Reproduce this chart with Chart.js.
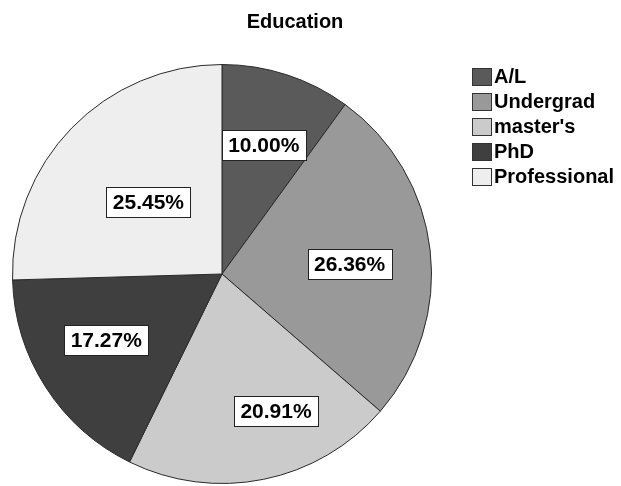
<!DOCTYPE html>
<html>
<head>
<meta charset="utf-8">
<script src="https://cdn.jsdelivr.net/npm/chart.js@4/dist/chart.umd.min.js"></script>
<style>
  html, body { margin: 0; padding: 0; background: #ffffff; }
  #wrap { width: 621px; height: 486px; position: relative; }
</style>
</head>
<body>
<div id="wrap"><canvas id="pie" width="621" height="486"></canvas></div>
<script>
// Education breakdown (percent of respondents)
const categories = ["A/L", "Undergrad", "master's", "PhD", "Professional"];
const percentages = [10.00, 26.36, 20.91, 17.27, 25.45];
const chartTitle = "Education";

const sliceColors = ["#5a5a5a", "#999999", "#cbcbcb", "#3f3f3f", "#eeeeee"];
const FONT = "'Liberation Sans', Arial, sans-serif";

// Where each value box sits: fraction of the radius and angle nudge (degrees)
const labelPlacement = [
  { r: 0.645, nudge: 0 },
  { r: 0.611, nudge: 2 },
  { r: 0.705, nudge: -10 },
  { r: 0.636, nudge: 3 },
  { r: 0.49,  nudge: 0 }
];

const valueBoxes = {
  id: 'valueBoxes',
  afterDatasetsDraw(chart) {
    const ctx = chart.ctx;
    const meta = chart.getDatasetMeta(0);
    const values = chart.data.datasets[0].data;
    ctx.save();
    ctx.font = "bold 21px " + FONT;
    ctx.textAlign = 'center';
    ctx.textBaseline = 'middle';
    meta.data.forEach((arc, i) => {
      const p = arc.getProps(['x', 'y', 'startAngle', 'endAngle', 'outerRadius'], true);
      const place = labelPlacement[i];
      const mid = (p.startAngle + p.endAngle) / 2 + place.nudge * Math.PI / 180;
      const rr = p.outerRadius * place.r;
      const cx = p.x + Math.cos(mid) * rr;
      const cy = p.y + Math.sin(mid) * rr;
      const text = values[i].toFixed(2) + '%';
      const w = Math.round(ctx.measureText(text).width + 13);
      const h = 30;
      const bx = Math.round(cx - w / 2) + 0.5;
      const by = Math.round(cy - h / 2) + 0.5;
      ctx.fillStyle = '#ffffff';
      ctx.fillRect(bx, by, w, h);
      ctx.strokeStyle = '#222222';
      ctx.lineWidth = 1;
      ctx.strokeRect(bx, by, w, h);
      ctx.fillStyle = '#000000';
      ctx.fillText(text, cx, cy + 1);
    });
    ctx.restore();
  }
};

const sideLegend = {
  id: 'sideLegend',
  afterDraw(chart) {
    const ctx = chart.ctx;
    const ds = chart.data.datasets[0];
    ctx.save();
    // title
    ctx.font = "bold 20px " + FONT;
    ctx.fillStyle = '#000000';
    ctx.textAlign = 'center';
    ctx.textBaseline = 'middle';
    ctx.fillText(chartTitle, 295, 22);
    // legend entries
    ctx.font = "bold 20px " + FONT;
    ctx.textAlign = 'left';
    chart.data.labels.forEach((lab, i) => {
      const top = 68 + i * 25;
      ctx.fillStyle = ds.backgroundColor[i];
      ctx.fillRect(472.5, top + 0.5, 19, 17);
      ctx.strokeStyle = '#333333';
      ctx.lineWidth = 1;
      ctx.strokeRect(472.5, top + 0.5, 19, 17);
      ctx.fillStyle = '#000000';
      ctx.fillText(lab, 494, top + 9.5);
    });
    ctx.restore();
  }
};

new Chart(document.getElementById('pie'), {
  type: 'pie',
  data: {
    labels: categories,
    datasets: [{
      data: percentages,
      backgroundColor: sliceColors,
      borderColor: '#2a2a2a',
      borderWidth: 1,
      hoverOffset: 0,
      offset: 0
    }]
  },
  options: {
    responsive: false,
    animation: false,
    events: [],
    layout: { padding: { left: 12, right: 189, top: 64, bottom: 2 } },
    plugins: {
      legend: { display: false },
      title: { display: false },
      tooltip: { enabled: false }
    }
  },
  plugins: [valueBoxes, sideLegend]
});
</script>
</body>
</html>
